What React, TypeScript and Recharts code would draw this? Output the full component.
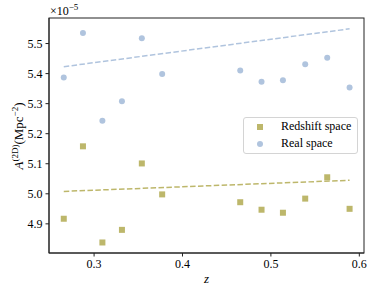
import React from 'react';
import { ComposedChart, Scatter, XAxis, YAxis, Label } from 'recharts';

// redshift bins (shared by both samples)
const zBins = [0.2657, 0.2874, 0.3094, 0.3315, 0.354, 0.377, 0.4653, 0.4894, 0.5136, 0.5388, 0.5637, 0.589];
// amplitudes in units of 1e-5 Mpc^-2
const redshiftSpace = [4.917, 5.158, 4.838, 4.88, 5.101, 4.998, 4.972, 4.947, 4.937, 4.984, 5.055, 4.95];
const realSpace = [5.387, 5.535, 5.243, 5.308, 5.518, 5.399, 5.41, 5.373, 5.378, 5.431, 5.453, 5.354];
// linear fits, end points
const fitZ = [0.2657, 0.589];
const redshiftFit = [5.008, 5.045];
const realFit = [5.423, 5.549];

const xTicks = [0.3, 0.4, 0.5, 0.6];
const yTicks = [4.9, 5.0, 5.1, 5.2, 5.3, 5.4, 5.5];
const xDomain = [0.249, 0.6053];
const yDomain = [4.803, 5.585];

const KHAKI = '#bdb76b';
const STEEL = '#b0c4de';
const FONT = '"Liberation Serif", "DejaVu Serif", serif';
const PLOT_TOP = 18;

const toPoints = (zs: number[], vals: number[]) => zs.map((z, i) => ({ z, A: vals[i] }));

const redshiftData = toPoints(zBins, redshiftSpace);
const realData = toPoints(zBins, realSpace);
const redshiftFitData = toPoints(fitZ, redshiftFit);
const realFitData = toPoints(fitZ, realFit);

const SquareDot = (props: any) => (
  <rect x={props.cx - 3} y={props.cy - 3} width={6} height={6} fill={KHAKI} />
);
const CircleDot = (props: any) => <circle cx={props.cx} cy={props.cy} r={3} fill={STEEL} />;
const NoDot = () => <g />;

const LegendBox = () => (
  <div
    style={{
      position: 'absolute',
      left: 243,
      top: 117,
      width: 113,
      height: 35,
      border: '1px solid #d4d4d4',
      borderRadius: 3,
      background: 'rgba(255,255,255,0.8)',
      fontFamily: FONT,
      fontSize: 12,
      color: '#000',
    }}
  >
    <div style={{ position: 'absolute', left: 13, top: 6, width: 6, height: 6, background: KHAKI }} />
    <div style={{ position: 'absolute', left: 37, top: 2, lineHeight: '13px' }}>Redshift space</div>
    <div style={{ position: 'absolute', left: 13, top: 23, width: 6, height: 6, borderRadius: 3, background: STEEL }} />
    <div style={{ position: 'absolute', left: 37, top: 19, lineHeight: '13px' }}>Real space</div>
  </div>
);

const axisStyle = {
  tick: { fontSize: 12, fontFamily: FONT, fill: '#000' },
  tickSize: 3.5,
  tickMargin: 3,
  axisLine: { stroke: '#222' },
  tickLine: { stroke: '#222' },
};

const App = () => {
  return (
    <div style={{ position: 'absolute', left: 0, top: 0, width: 374, height: 294, background: '#fff' }}>
      <ComposedChart width={374} height={294} margin={{ top: PLOT_TOP, right: 10, left: 9, bottom: 11 }}>
        <XAxis
          type="number"
          dataKey="z"
          domain={xDomain}
          ticks={xTicks}
          allowDataOverflow
          height={30}
          tickFormatter={(v: number) => v.toFixed(1)}
          {...axisStyle}
        >
          <Label
            content={(p: any) => {
              const vb = p.viewBox;
              return (
                <g>
                  {/* box around the plot area */}
                  <rect
                    x={vb.x}
                    y={PLOT_TOP}
                    width={vb.width}
                    height={vb.y - PLOT_TOP}
                    fill="none"
                    stroke="#222"
                    strokeWidth={1}
                  />
                  <text x={vb.x + vb.width / 2} y={283} textAnchor="middle" fontFamily={FONT} fontStyle="italic" fontSize={13}>
                    z
                  </text>
                </g>
              );
            }}
          />
        </XAxis>
        <YAxis
          type="number"
          dataKey="A"
          domain={yDomain}
          ticks={yTicks}
          allowDataOverflow
          width={40}
          tickFormatter={(v: number) => v.toFixed(1)}
          {...axisStyle}
        >
          <Label
            content={() => (
              <text x={23} y={136} transform="rotate(-90, 23, 136)" textAnchor="middle" fontFamily={FONT} fontSize={13}>
                <tspan fontStyle="italic">A</tspan>
                <tspan dy={-5} fontSize={9}>(2D)</tspan>
                <tspan dy={5}>(Mpc</tspan>
                <tspan dy={-5} fontSize={9}>−2</tspan>
                <tspan dy={5}>)</tspan>
              </text>
            )}
          />
          <Label
            content={() => (
              <text x={50} y={15} fontFamily={FONT} fontSize={12}>
                ×10
                <tspan dy={-5} fontSize={9}>−5</tspan>
              </text>
            )}
          />
        </YAxis>
        <Scatter
          data={redshiftFitData}
          shape={NoDot}
          line={{ stroke: KHAKI, strokeWidth: 1.5, strokeDasharray: '5.5 2.4' }}
          isAnimationActive={false}
        />
        <Scatter
          data={realFitData}
          shape={NoDot}
          line={{ stroke: STEEL, strokeWidth: 1.5, strokeDasharray: '5.5 2.4' }}
          isAnimationActive={false}
        />
        <Scatter name="Redshift space" data={redshiftData} shape={SquareDot} isAnimationActive={false} />
        <Scatter name="Real space" data={realData} shape={CircleDot} isAnimationActive={false} />
      </ComposedChart>
      <LegendBox />
    </div>
  );
};

export default App;
